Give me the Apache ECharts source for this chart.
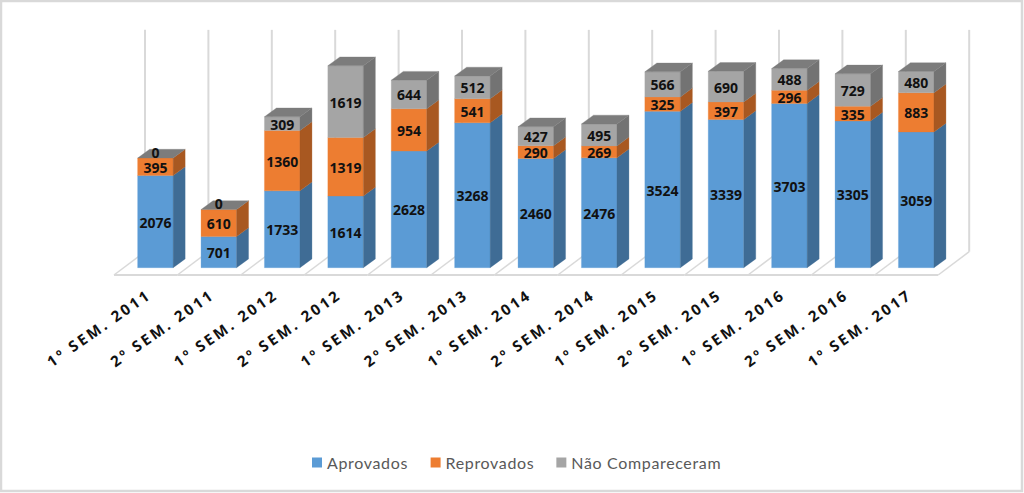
<!DOCTYPE html>
<html><head><meta charset="utf-8">
<style>
html,body{margin:0;padding:0;background:#fff}
#c{width:1024px;height:493px}
</style>
<script src="https://cdn.jsdelivr.net/npm/echarts@6/dist/echarts.min.js"></script>
</head><body><div id="c"></div>
<script>
const categories = ['1º SEM. 2011','2º SEM. 2011','1º SEM. 2012','2º SEM. 2012','1º SEM. 2013','2º SEM. 2013','1º SEM. 2014','2º SEM. 2014','1º SEM. 2015','2º SEM. 2015','1º SEM. 2016','2º SEM. 2016','1º SEM. 2017'];
const seriesNames = ['Aprovados','Reprovados','Não Compareceram'];
const aprovados = [2076,701,1733,1614,2628,3268,2460,2476,3524,3339,3703,3305,3059];
const reprovados = [395,610,1360,1319,954,541,290,269,325,397,296,335,883];
const naoCompareceram = [0,0,309,1619,644,512,427,495,566,690,488,729,480];

const BAR_DX = 12, BAR_DY = 8.8, BAR_FRAC = 0.56;
const FLOOR_LEFT = 9.7, FLOOR_FRONT = 7.3, FLOOR_DX = 31, FLOOR_DY = 23.3;
const GRID = '#D9D9D9';

function poly(points, fill){ return {type:'polygon', shape:{points}, style:{fill, stroke:fill, lineWidth:0.3}}; }
function line(x1,y1,x2,y2,w){ return {type:'line', shape:{x1,y1,x2,y2}, style:{stroke:GRID, lineWidth:w}}; }

function barRenderer(front, side, top){
  return function(params, api){
    const i = api.value(0), start = api.value(1), v = api.value(2);
    const p0 = api.coord([i, start]), p1 = api.coord([i, start + v]);
    const w = api.size([1,0])[0] * BAR_FRAC;
    const l = p0[0]-w/2, r = p0[0]+w/2, b = p0[1], t = p1[1];
    const kids = [];
    if (v > 0) {
      kids.push(poly([[l,b],[r,b],[r,t],[l,t]], front));
      kids.push(poly([[r,b],[r+BAR_DX,b-BAR_DY],[r+BAR_DX,t-BAR_DY],[r,t]], side));
    }
    if (top) kids.push(poly([[l,t],[r,t],[r+BAR_DX,t-BAR_DY],[l+BAR_DX,t-BAR_DY]], top));
    kids.push({type:'text', z2:10, style:{
      text:String(v), x:p0[0], y: v>0 ? (b+t)/2+0.5 : t-6,
      textAlign:'center', textVerticalAlign:'middle', lineHeight:13,
      font:'bold 14px "Noto Sans", sans-serif', fill:'#111'}});
    return {type:'group', children:kids};
  };
}
function rows(values, bases){ return values.map((v,i)=>[i,bases[i],v]); }
const base1 = aprovados.map(()=>0);
const base2 = aprovados.slice();
const base3 = aprovados.map((v,i)=>v+reprovados[i]);

function frameRenderer(params, api){
  const i = api.value(0);
  const c = api.coord([i,0]), top = api.coord([i,5000]);
  const band = api.size([1,0])[0];
  const y0 = c[1]+FLOOR_FRONT;
  const xs = [c[0]-band/2-FLOOR_LEFT];
  if (i === categories.length-1) xs.push(xs[0]+band);
  const kids = [line(xs[0], y0, xs[0]+band, y0, 2)];
  xs.forEach(x=>{
    kids.push(line(x, y0, x+FLOOR_DX, y0-FLOOR_DY, 1.5));
    kids.push(line(x+FLOOR_DX, y0-FLOOR_DY, x+FLOOR_DX, top[1]+FLOOR_FRONT-FLOOR_DY, 2));
  });
  return {type:'group', children:kids};
}

const chart = echarts.init(document.getElementById('c'), null, {renderer:'svg'});
chart.setOption({
  animation:false,
  backgroundColor:'#fff',
  grid:{left:123.7, width:824.2, top:45.85, height:221.85},
  xAxis:{type:'category', data:categories, axisLine:{show:false}, axisTick:{show:false}, splitLine:{show:false},
    axisLabel:{interval:0, rotate:35, margin:20, color:'#111', fontFamily:'Open Sans', fontWeight:'bold', fontSize:15, padding:[0,8,0,0]}},
  yAxis:{type:'value', min:0, max:5000, show:false},
  legend:{data:seriesNames, left:307, top:449.5, itemWidth:10, itemHeight:10, itemGap:28.5, icon:'rect',
    textStyle:{color:'#595959', fontFamily:'Lato', fontSize:16}},
  graphic:[{type:'rect', silent:true, z:100, shape:{x:1,y:1,width:1021,height:490}, style:{fill:'none', stroke:'#D9D9D9', lineWidth:2.5}}],
  series:[
    {type:'custom', name:'frame', silent:true, z:1, renderItem:frameRenderer, data:categories.map((c,i)=>[i]), encode:{x:0}},
    {type:'custom', name:seriesNames[0], z:2, itemStyle:{color:'#5B9BD5'}, renderItem:barRenderer('#5B9BD5','#3F6C95',null), data:rows(aprovados,base1), encode:{x:0,y:2}},
    {type:'custom', name:seriesNames[1], z:3, itemStyle:{color:'#ED7D31'}, renderItem:barRenderer('#ED7D31','#A85821',null), data:rows(reprovados,base2), encode:{x:0,y:2}},
    {type:'custom', name:seriesNames[2], z:4, itemStyle:{color:'#A5A5A5'}, renderItem:barRenderer('#A5A5A5','#737373','#7C7C7C'), data:rows(naoCompareceram,base3), encode:{x:0,y:2}}
  ]
});
document.querySelectorAll('#c text').forEach(t=>{
  const s = t.textContent;
  if (categories.includes(s)) t.style.letterSpacing='2.6px';
  else if (seriesNames.includes(s)) t.style.letterSpacing='0.65px';
});
</script></body></html>
